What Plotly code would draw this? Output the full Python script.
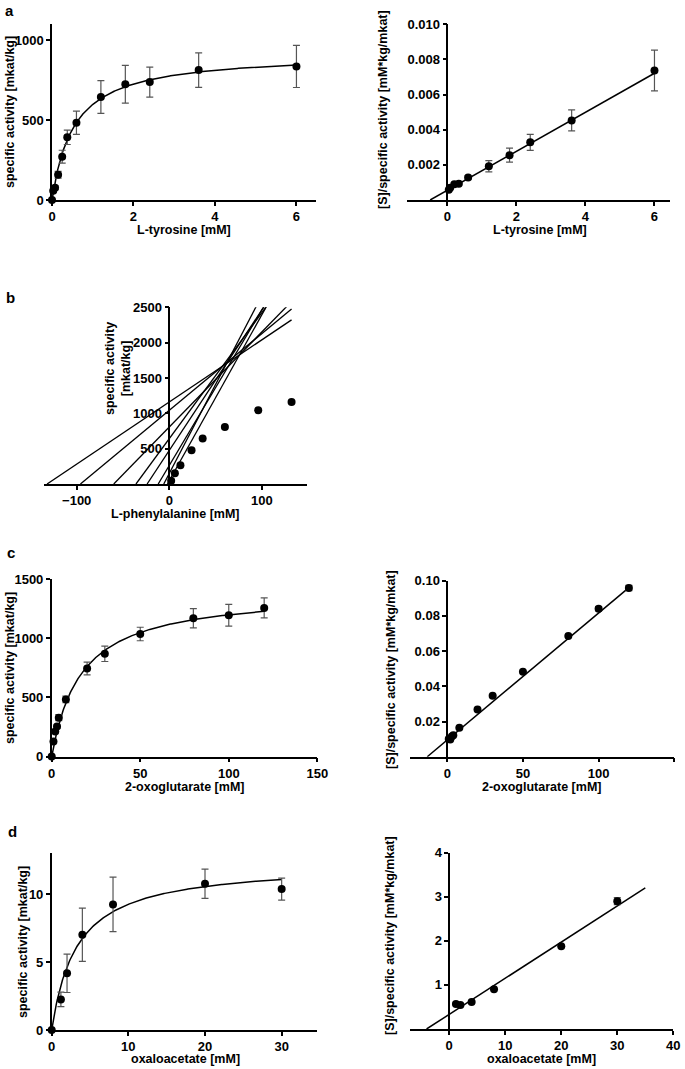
import numpy as np
import plotly.graph_objects as go

# ---------------- data ----------------
# a: L-tyrosine
a_S = [0, 0.03, 0.075, 0.15, 0.25, 0.375, 0.6, 1.2, 1.8, 2.4, 3.6, 6.0]
a_v = [0, 58, 77, 158, 271, 392, 483, 644, 723, 737, 812, 835]
a_err = [0, 8, 12, 21, 40, 45, 73, 102, 118, 94, 108, 132]
a_hw_S = [0.04, 0.08, 0.2, 0.33, 0.6, 1.2, 1.8, 2.4, 3.6, 6.0]
a_hw_y = [0.00059, 0.0007, 0.0009, 0.00093, 0.00128, 0.00192, 0.00255, 0.00328, 0.00453, 0.00737]
a_hw_err = [0, 0, 0.00005, 0.00005, 0.0001, 0.00032, 0.0004, 0.00045, 0.0006, 0.00116]
a_fit = dict(Vmax=920, Km=0.54)
a_lin = dict(Vmax=901, Km=0.5, xend=6.0)

# b: L-phenylalanine (direct linear plot)
b_S = [2, 6, 12, 24, 36, 60, 96, 132]
b_v = [47, 151, 264, 477, 642, 807, 1043, 1161]

# c: 2-oxoglutarate
c_S = [0, 1, 2, 3, 4, 8, 20, 30, 50, 80, 100, 120]
c_v = [0, 126, 211, 253, 329, 483, 745, 869, 1037, 1170, 1196, 1258]
c_err = [0, 8, 10, 12, 25, 28, 54, 65, 57, 81, 92, 84]
c_hw_S = [1, 2, 3, 4, 8, 20, 30, 50, 80, 100, 120]
c_hw_y = [0.0100, 0.0098, 0.0115, 0.0122, 0.0164, 0.0268, 0.0346, 0.0483, 0.0686, 0.0841, 0.0958]
c_hw_err = [0, 0, 0, 0, 0, 0, 0, 0, 0, 0.0012, 0.0015]
c_fit = dict(Vmax=1400, Km=16.7)
c_lin = dict(Vmax=1387, Km=13.2, xend=120)

# d: oxaloacetate
d_S = [0, 1.2, 2, 4, 8, 20, 30]
d_v = [0, 2.25, 4.17, 7.01, 9.24, 10.76, 10.37]
d_err = [0, 0.53, 1.41, 1.96, 2.0, 1.08, 0.81]
d_hw_S = [1.2, 2, 4, 8, 20, 30]
d_hw_y = [0.567, 0.544, 0.612, 0.90, 1.88, 2.90]
d_hw_err = [0, 0, 0, 0, 0, 0.08]
d_fit = dict(Vmax=12.3, Km=3.3)
d_lin = dict(Vmax=12.2, Km=4.04, xend=35)

# ---------------- layout helpers ----------------
W, H = 685, 1069
FONT = "Arial, Liberation Sans, sans-serif"
ERRC = "#555555"


def dom(x0, x1, y0, y1):
    return [x0 / W, x1 / W], [1 - y1 / H, 1 - y0 / H]


fig = go.Figure()


def mm_curve(p, smax, xa, ya):
    x = np.linspace(0, smax, 300)
    y = p["Vmax"] * x / (p["Km"] + x)
    fig.add_trace(go.Scatter(x=x, y=y, mode="lines", line=dict(color="black", width=1.5),
                             xaxis=xa, yaxis=ya, showlegend=False, hoverinfo="skip"))


def hw_line(p, xa, ya):
    x = np.array([-p["Km"], p["xend"]])
    y = (p["Km"] + x) / p["Vmax"]
    fig.add_trace(go.Scatter(x=x, y=y, mode="lines", line=dict(color="black", width=1.5),
                             xaxis=xa, yaxis=ya, showlegend=False, hoverinfo="skip"))


def pts(x, y, err, xa, ya):
    kw = {}
    if err is not None:
        kw["error_y"] = dict(type="data", array=err, color=ERRC, thickness=1.2, width=3.5)
    fig.add_trace(go.Scatter(x=x, y=y, mode="markers", marker=dict(color="black", size=8),
                             cliponaxis=False, xaxis=xa, yaxis=ya, showlegend=False, **kw))


# traces
mm_curve(a_fit, max(a_S), "x", "y")
pts(a_S, a_v, a_err, "x", "y")
hw_line(a_lin, "x2", "y2")
pts(a_hw_S, a_hw_y, a_hw_err, "x2", "y2")

for S, v in zip(b_S, b_v):
    x = np.array([-S, max(b_S)])
    y = v * (1 + x / S)
    fig.add_trace(go.Scatter(x=x, y=y, mode="lines", line=dict(color="black", width=1.3),
                             xaxis="x3", yaxis="y3", showlegend=False, hoverinfo="skip"))
pts(b_S, b_v, None, "x3", "y3")

mm_curve(c_fit, max(c_S), "x4", "y4")
pts(c_S, c_v, c_err, "x4", "y4")
hw_line(c_lin, "x5", "y5")
pts(c_hw_S, c_hw_y, c_hw_err, "x5", "y5")

mm_curve(d_fit, max(d_S), "x6", "y6")
pts(d_S, d_v, d_err, "x6", "y6")
hw_line(d_lin, "x7", "y7")
pts(d_hw_S, d_hw_y, d_hw_err, "x7", "y7")

# axes
tickfont = dict(family=FONT, size=13, color="black", weight="bold")
common = dict(showgrid=False, zeroline=False, showline=True, linecolor="black", linewidth=1.5,
              ticks="outside", ticklen=4, tickwidth=1.5, tickcolor="black", tickfont=tickfont,
              fixedrange=True, automargin=False)

panels = [
    # (x box px, y box px, xrange, yrange, xticks, yticks, yfmt)
    ((52, 316), (24, 200), [0, 6.48], [0, 1100], [0, 2, 4, 6], [0, 500, 1000], None),
    ((406.7, 670), (24.3, 200), [-1.18, 6.45], [0, 0.010], [0, 2, 4, 6],
     [0.002, 0.004, 0.006, 0.008, 0.010], ".3f"),
    ((44.3, 307.3), (307.3, 484), [-135, 149], [0, 2500], [-100, 0, 100],
     [500, 1000, 1500, 2000, 2500], None),
    ((51.7, 317.3), (579.3, 756.5), [0, 150], [0, 1500], [0, 50, 100, 150], [0, 500, 1000, 1500], None),
    ((410, 674.3), (580.7, 756.7), [-24.6, 150], [0, 0.10], [0, 50, 100, 150],
     [0.02, 0.04, 0.06, 0.08, 0.10], ".2f"),
    ((51.7, 317.3), (853.3, 1030), [0, 34.65], [0, 13], [0, 10, 20, 30], [0, 5, 10], None),
    ((410, 673.3), (852.7, 1029), [-7.0, 40], [0, 4], [0, 10, 20, 30, 40], [1, 2, 3, 4], None),
]

layout = {}
for i, (xb, yb, xr, yr, xt, yt, yfmt) in enumerate(panels, start=1):
    dx, dy = dom(xb[0], xb[1], yb[0], yb[1])
    sfx = "" if i == 1 else str(i)
    yname = "y" + sfx
    xname = "x" + sfx
    xa = dict(common, domain=dx, range=xr, tickvals=xt, anchor=yname)
    ya = dict(common, domain=dy, range=yr, tickvals=yt)
    if yfmt:
        ya["tickformat"] = yfmt
    if xr[0] < 0:
        ya["anchor"] = "free"
        ya["position"] = dx[0] + (0 - xr[0]) / (xr[1] - xr[0]) * (dx[1] - dx[0])
    else:
        ya["anchor"] = xname
    layout["xaxis" + sfx] = xa
    layout["yaxis" + sfx] = ya

fig.update_layout(**layout)

# annotations: axis titles and panel letters
tfont = dict(family=FONT, size=12.5, color="black", weight="bold")
lfont = dict(family=FONT, size=15, color="black", weight="bold")
ann = []


def txt(x, y, s, angle=0, font=tfont):
    ann.append(dict(x=x / W, y=1 - y / H, xref="paper", yref="paper", text=s, showarrow=False,
                    textangle=angle, font=font, xanchor="center", yanchor="middle"))


txt(9, 10, "a", font=lfont)
txt(10, 297, "b", font=lfont)
txt(11, 552, "c", font=lfont)
txt(12, 831, "d", font=lfont)

txt(184, 230, "L-tyrosine [mM]")
txt(10, 112, "specific activity [mkat/kg]", -90)
txt(540, 230, "L-tyrosine [mM]")
txt(383, 110, "[S]/specific activity [mM*kg/mkat]", -90)

txt(175, 514, "L-phenylalanine [mM]")
txt(118, 369, "specific activity<br>[mkat/kg]", -90)

txt(184, 787, "2-oxoglutarate [mM]")
txt(10, 668, "specific activity [mkat/kg]", -90)
txt(541, 787, "2-oxoglutarate [mM]")
txt(391, 670, "[S]/specific activity [mM*kg/mkat]", -90)

txt(185, 1059, "oxaloacetate [mM]")
txt(23, 942, "specific activity [mkat/kg]", -90)
txt(541, 1059, "oxaloacetate [mM]")
txt(390, 936, "[S]/specific activity [mM*kg/mkat]", -90)

fig.update_layout(width=W, height=H, margin=dict(l=0, r=0, t=0, b=0, pad=0, autoexpand=False),
                  paper_bgcolor="white", plot_bgcolor="white", annotations=ann,
                  showlegend=False)

fig.write_html("out.html", config={"displayModeBar": False},
               post_script="document.body.style.margin='0px';document.body.style.padding='0px';")
